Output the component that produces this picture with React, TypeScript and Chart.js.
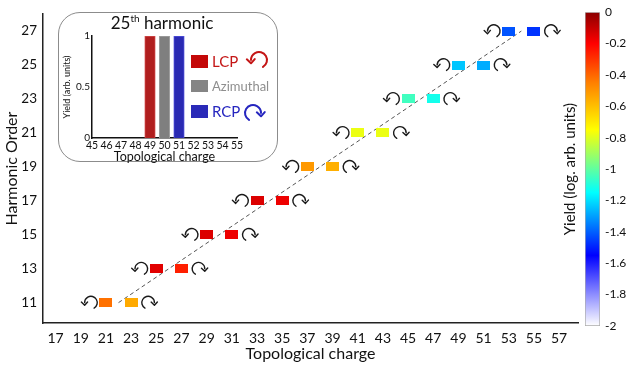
import React, { useEffect, useRef } from 'react';
import { Chart, registerables } from 'chart.js';
Chart.register(...registerables);

// ---------- data ----------
const HARMONICS = [11, 13, 15, 17, 19, 21, 23, 25, 27];
const LCP_CHARGE = [21, 25, 29, 33, 37, 41, 45, 49, 53];
const RCP_CHARGE = [23, 27, 31, 35, 39, 43, 47, 51, 55];
const LCP_YIELD = [-0.42, -0.15, -0.14, -0.14, -0.51, -0.78, -1.05, -1.24, -1.42];
const RCP_YIELD = [-0.55, -0.26, -0.17, -0.17, -0.56, -0.78, -1.12, -1.28, -1.47];
const GUIDE_X = [22, 54];
const GUIDE_Y = [11, 27];
const X_TICKS = [17, 19, 21, 23, 25, 27, 29, 31, 33, 35, 37, 39, 41, 43, 45, 47, 49, 51, 53, 55, 57];
const Y_TICKS = [11, 13, 15, 17, 19, 21, 23, 25, 27];

const INSET_CHARGES = [49, 50, 51];
const INSET_YIELD = [1, 1, 1];
const INSET_LABELS = ['LCP', 'Azimuthal', 'RCP'];
const INSET_X_TICKS = [45, 46, 47, 48, 49, 50, 51, 52, 53, 54, 55];
const INSET_Y_TICKS = [0, 0.5, 1];

const CBAR_TICKS = [0, -0.2, -0.4, -0.6, -0.8, -1, -1.2, -1.4, -1.6, -1.8, -2];
const CMAP_VALUES = [0, -0.2, -0.45, -0.75, -0.95, -1.15, -1.55, -2];
const CMAP_COLORS = [
  [139, 0, 0], [255, 0, 0], [255, 128, 0], [255, 255, 0],
  [128, 255, 128], [0, 255, 255], [0, 0, 255], [255, 255, 255],
];

const FONT = 'Lato';
Chart.defaults.font.family = FONT;

function rgb(c: number[]) {
  return `rgb(${Math.round(c[0])},${Math.round(c[1])},${Math.round(c[2])})`;
}
function colorFor(v: number) {
  for (let i = 0; i < CMAP_VALUES.length - 1; i++) {
    const a = CMAP_VALUES[i], b = CMAP_VALUES[i + 1];
    if (v <= a && v >= b) {
      const t = (a - v) / (a - b);
      const ca = CMAP_COLORS[i], cb = CMAP_COLORS[i + 1];
      return rgb([0, 1, 2].map(k => ca[k] + (cb[k] - ca[k]) * t));
    }
  }
  return rgb(CMAP_COLORS[CMAP_COLORS.length - 1]);
}
function rectImg(color: string) {
  const c = document.createElement('canvas');
  c.width = 13; c.height = 9;
  const g = c.getContext('2d')!;
  g.fillStyle = color;
  g.fillRect(0, 0, 13, 9);
  return c;
}

// curved polarization arrow: dir -1 = anticlockwise (head on left), +1 = clockwise (head on right)
function drawCurl(ctx: CanvasRenderingContext2D, cx: number, cy: number, r: number, dir: number, color: string, lw: number) {
  ctx.save();
  ctx.strokeStyle = color;
  ctx.lineWidth = lw;
  ctx.lineCap = 'round';
  ctx.lineJoin = 'round';
  ctx.beginPath();
  if (dir < 0) ctx.arc(cx, cy, r, (60 * Math.PI) / 180, Math.PI, true);
  else ctx.arc(cx, cy, r, (120 * Math.PI) / 180, 2 * Math.PI, false);
  ctx.stroke();
  const hx = cx + dir * r;
  const h = r * 0.55;
  ctx.beginPath();
  ctx.moveTo(hx - h * 0.95, cy - h * 0.15);
  ctx.lineTo(hx, cy + h * 0.75);
  ctx.lineTo(hx + h * 0.85, cy - h * 0.2);
  ctx.stroke();
  ctx.restore();
}

const arrowPlugin = {
  id: 'arrows',
  afterDatasetsDraw(chart: any) {
    const { ctx } = chart;
    const xs = chart.scales.x, ys = chart.scales.y;
    LCP_CHARGE.forEach((c, i) => {
      drawCurl(ctx, xs.getPixelForValue(c) - 15, ys.getPixelForValue(HARMONICS[i]), 6.3, -1, '#1a1a1a', 1.4);
    });
    RCP_CHARGE.forEach((c, i) => {
      drawCurl(ctx, xs.getPixelForValue(c) + 17, ys.getPixelForValue(HARMONICS[i]), 6.3, 1, '#1a1a1a', 1.4);
    });
  },
};

function MainChart() {
  const ref = useRef<HTMLCanvasElement>(null);
  useEffect(() => {
    const chart = new Chart(ref.current!, {
      type: 'scatter',
      data: {
        datasets: [
          {
            data: LCP_CHARGE.map((x, i) => ({ x, y: HARMONICS[i] })),
            pointStyle: LCP_YIELD.map(v => rectImg(colorFor(v))) as any,
            pointRadius: 6,
          },
          {
            data: RCP_CHARGE.map((x, i) => ({ x, y: HARMONICS[i] })),
            pointStyle: RCP_YIELD.map(v => rectImg(colorFor(v))) as any,
            pointRadius: 6,
          },
          {
            type: 'line',
            data: GUIDE_X.map((x, i) => ({ x, y: GUIDE_Y[i] })),
            borderColor: '#555',
            borderWidth: 1,
            borderDash: [4, 3],
            pointRadius: 0,
            fill: false,
          } as any,
        ],
      },
      options: {
        animation: false,
        responsive: false,
        layout: { padding: { top: 5, right: 48, left: 0, bottom: 0 } },
        plugins: { legend: { display: false }, tooltip: { enabled: false } },
        scales: {
          x: {
            type: 'linear', min: 16, max: 58.5,
            afterBuildTicks: (s: any) => { s.ticks = X_TICKS.map(v => ({ value: v })); },
            afterFit: (s: any) => { s.height = 47; },
            grid: { display: false, drawTicks: false },
            border: { display: true, color: '#222', width: 1.5 },
            ticks: { font: { family: FONT, size: 14 }, color: '#111', padding: 7, autoSkip: false, maxRotation: 0 },
            title: { display: true, text: 'Topological charge', font: { family: FONT, size: 16 }, color: '#111', padding: { top: 0, bottom: 7 } },
          },
          y: {
            type: 'linear', min: 9.8, max: 28,
            afterBuildTicks: (s: any) => { s.ticks = Y_TICKS.map(v => ({ value: v })); },
            afterFit: (s: any) => { s.width = 43; },
            grid: { display: false, drawTicks: false },
            border: { display: true, color: '#222', width: 1.5 },
            ticks: { font: { family: FONT, size: 13.5 }, color: '#111', padding: 6 },
            title: { display: true, text: 'Harmonic Order', font: { family: FONT, size: 16 }, color: '#111', padding: { top: 2, bottom: 0 } },
          },
        },
      } as any,
      plugins: [arrowPlugin],
    });
    return () => chart.destroy();
  }, []);
  return <canvas ref={ref} width={626} height={370} style={{ position: 'absolute', left: 0, top: 0 }} />;
}

const INSET_FILL = ['#b01e1e', '#7f7f7f', '#2a2ab2'];
const INSET_EDGE = ['#d24a4a', '#a0a0a0', '#5050dc'];
const LEGEND_SWATCH = ['#c40808', '#858585', '#2a2ab8'];
const LEGEND_TEXT = ['#c41616', '#8e8e8e', '#2626bf'];

const insetLegendPlugin = {
  id: 'insetLegend',
  afterDraw(chart: any) {
    const { ctx } = chart;
    const rows = [27, 52, 77];
    const sizes = [15, 13, 15];
    ctx.save();
    rows.forEach((top, i) => {
      ctx.fillStyle = LEGEND_SWATCH[i];
      ctx.fillRect(131, top, 17, i === 1 ? 12 : 13);
      ctx.fillStyle = LEGEND_TEXT[i];
      ctx.font = `${sizes[i]}px ${FONT}`;
      ctx.textAlign = 'left';
      ctx.textBaseline = 'middle';
      ctx.fillText(INSET_LABELS[i], 152, top + 7);
    });
    ctx.restore();
    drawCurl(ctx, 199, 32, 8, -1, LEGEND_TEXT[0], 2);
    drawCurl(ctx, 193, 85, 8, 1, LEGEND_TEXT[2], 2);
  },
};

function InsetChart() {
  const ref = useRef<HTMLCanvasElement>(null);
  useEffect(() => {
    const chart = new Chart(ref.current!, {
      type: 'bar',
      data: {
        datasets: [{
          data: INSET_CHARGES.map((x, i) => ({ x, y: INSET_YIELD[i] })),
          backgroundColor: INSET_FILL,
          borderColor: INSET_EDGE,
          borderWidth: 1,
          barThickness: 10.5,
        }],
      },
      options: {
        animation: false,
        responsive: false,
        layout: { padding: { top: 5, right: 41, left: 0, bottom: 0 } },
        plugins: { legend: { display: false }, tooltip: { enabled: false } },
        scales: {
          x: {
            type: 'linear', min: 45, max: 55, offset: false,
            afterBuildTicks: (s: any) => { s.ticks = INSET_X_TICKS.map(v => ({ value: v })); },
            afterFit: (s: any) => { s.height = 26; },
            grid: { display: false, drawTicks: false },
            border: { display: true, color: '#111', width: 1.5 },
            ticks: { font: { family: FONT, size: 10.5 }, color: '#111', padding: 1, autoSkip: false, maxRotation: 0, callback: (v: any) => String(v) },
            title: { display: true, text: 'Topological charge', font: { family: FONT, size: 12.5 }, color: '#111', padding: { top: 0, bottom: 0 } },
          },
          y: {
            type: 'linear', min: 0, max: 1,
            afterBuildTicks: (s: any) => { s.ticks = INSET_Y_TICKS.map(v => ({ value: v })); },
            afterFit: (s: any) => { s.width = 32; },
            grid: { display: false, drawTicks: false },
            border: { display: true, color: '#111', width: 1.5 },
            ticks: { font: { family: FONT, size: 10 }, color: '#111', padding: 2, callback: (v: any) => String(v) },
            title: { display: true, text: 'Yield (arb. units)', font: { family: FONT, size: 9 }, color: '#111', padding: { top: 2, bottom: 0 } },
          },
        },
      } as any,
      plugins: [insetLegendPlugin],
    });
    return () => chart.destroy();
  }, []);
  return <canvas ref={ref} width={218} height={136} style={{ position: 'absolute', left: 60, top: 28 }} />;
}

function ColorBar() {
  const ref = useRef<HTMLCanvasElement>(null);
  useEffect(() => {
    const chart = new Chart(ref.current!, {
      type: 'bar',
      data: {
        labels: [''],
        datasets: [{
          data: [[-2, 0]] as any,
          backgroundColor: (c: any) => {
            const ca = c.chart.chartArea;
            if (!ca) return '#fff';
            const g = c.chart.ctx.createLinearGradient(0, ca.bottom, 0, ca.top);
            CMAP_VALUES.forEach((v, i) => g.addColorStop((v + 2) / 2, rgb(CMAP_COLORS[i])));
            return g;
          },
          borderColor: '#aaa',
          borderWidth: 1,
          borderSkipped: false,
          categoryPercentage: 1,
          barPercentage: 1,
          yAxisID: 'y',
        }],
      },
      options: {
        animation: false,
        responsive: false,
        layout: { padding: { top: 8, right: 0, left: 0, bottom: 19 } },
        plugins: { legend: { display: false }, tooltip: { enabled: false } },
        scales: {
          x: { display: false },
          y: {
            position: 'right', type: 'linear', min: -2, max: 0,
            afterBuildTicks: (s: any) => { s.ticks = CBAR_TICKS.map(v => ({ value: v })); },
            afterFit: (s: any) => { s.width = 26; },
            grid: { display: false, drawTicks: false },
            border: { display: false },
            ticks: {
              font: { family: FONT, size: 12 }, color: '#111', padding: 5,
              callback: (v: any) => (v === 0 ? '0' : Number.isInteger(v) ? String(v) : Number(v).toFixed(1)),
            },
          },
          yl: {
            position: 'left', type: 'linear', min: -2, max: 0,
            afterFit: (s: any) => { s.width = 35; },
            grid: { display: false, drawTicks: false },
            border: { display: false },
            ticks: { display: false },
            title: { display: true, text: 'Yield (log. arb. units)', font: { family: FONT, size: 15 }, color: '#111', padding: { top: 11, bottom: 0 } },
          },
        },
      } as any,
    });
    return () => chart.destroy();
  }, []);
  return <canvas ref={ref} width={76} height={345} style={{ position: 'absolute', left: 550, top: 0 }} />;
}

export default function App() {
  return (
    <div style={{ position: 'absolute', left: 0, top: 0, width: 626, height: 370, background: '#fff', overflow: 'hidden' }}>
      <MainChart />
      <ColorBar />
      <div style={{ position: 'absolute', left: 58, top: 12, width: 218, height: 148, border: '1.5px solid #8c8c8c', borderRadius: 22, background: '#fff' }} />
      <div style={{ position: 'absolute', left: 162, top: 22, transform: 'translate(-50%,-50%)', fontFamily: FONT, fontSize: 17, color: '#111', whiteSpace: 'nowrap', lineHeight: 1 }}>
        25<span style={{ fontSize: 10, position: 'relative', top: -7 }}>th</span> harmonic
      </div>
      <InsetChart />
    </div>
  );
}
